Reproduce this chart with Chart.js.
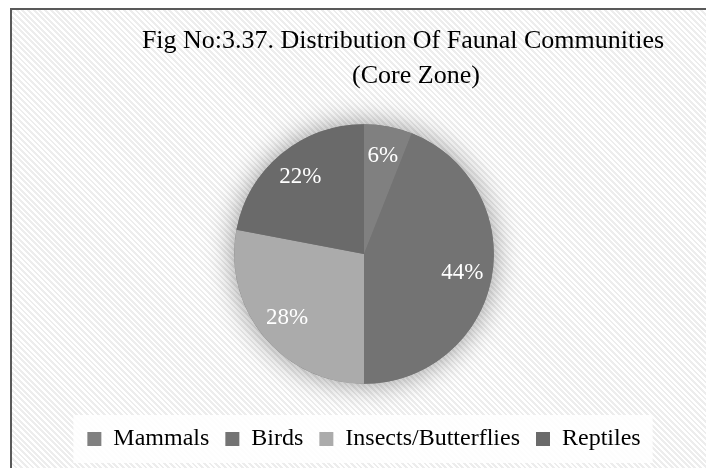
<!DOCTYPE html>
<html>
<head>
<meta charset="utf-8">
<title>Distribution Of Faunal Communities</title>
<script src="https://cdn.jsdelivr.net/npm/chart.js@4.4.1/dist/chart.umd.min.js"></script>
<style>
  html, body { margin: 0; padding: 0; width: 706px; height: 468px; overflow: hidden; background: #fff; }
  #frame {
    position: absolute; left: 10px; top: 8px; width: 780px; height: 520px;
    border-left: 2px solid #595959; border-top: 2px solid #595959;
    background: repeating-linear-gradient(45deg, #ffffff 0px, #ffffff 2px, #ededed 2px, #ededed 4px);
  }
  #wrap { position: absolute; left: 0; top: 0; width: 706px; height: 480px; }
</style>
</head>
<body>
<div id="frame"></div>
<div id="wrap"><canvas id="faunaChart" width="706" height="480"></canvas></div>
<script>
const titleLines = ["Fig No:3.37. Distribution Of Faunal Communities", "(Core Zone)"];
const categories = ["Mammals", "Birds", "Insects/Butterflies", "Reptiles"];
const shares = [6, 44, 28, 22];
const sliceColors = ["#808080", "#737373", "#ababab", "#6a6a6a"];

const serif = '"Liberation Serif", "Times New Roman", serif';

// soft halo behind the whole pie
const pieShadow = {
  id: "pieShadow",
  beforeDatasetsDraw(chart) {
    const arc = chart.getDatasetMeta(0).data[0];
    if (!arc) return;
    const ctx = chart.ctx;
    ctx.save();
    ctx.shadowColor = "rgba(0, 0, 0, 0.4)";
    ctx.shadowBlur = 28;
    ctx.fillStyle = "#777";
    ctx.beginPath();
    ctx.arc(arc.x, arc.y, arc.outerRadius, 0, Math.PI * 2);
    ctx.fill();
    ctx.restore();
  },
};

// percentage text inside each slice
const sliceLabels = {
  id: "sliceLabels",
  afterDatasetsDraw(chart) {
    const ctx = chart.ctx;
    const meta = chart.getDatasetMeta(0);
    ctx.save();
    ctx.font = "23px " + serif;
    ctx.fillStyle = "#fff";
    ctx.textAlign = "center";
    ctx.textBaseline = "middle";
    meta.data.forEach((arc, i) => {
      const mid = (arc.startAngle + arc.endAngle) / 2;
      const r = arc.outerRadius * 0.77;
      ctx.fillText(shares[i] + "%", arc.x + Math.cos(mid) * r, arc.y + Math.sin(mid) * r);
    });
    ctx.restore();
  },
};

// two-line heading, set a little right of the plot centre
const heading = {
  id: "heading",
  afterDraw(chart) {
    const ctx = chart.ctx;
    const xs = [403, 416];
    const ys = [41, 76];
    ctx.save();
    ctx.font = "26px " + serif;
    ctx.fillStyle = "#000";
    ctx.textAlign = "center";
    ctx.textBaseline = "middle";
    titleLines.forEach((line, i) => ctx.fillText(line, xs[i], ys[i]));
    ctx.restore();
  },
};

// pale band behind the legend row
const legendBand = {
  id: "legendBand",
  beforeDraw(chart) {
    const boxes = chart.legend && chart.legend.legendHitBoxes;
    if (!boxes || !boxes.length) return;
    const first = boxes[0];
    const last = boxes[boxes.length - 1];
    const left = first.left - 14;
    const right = last.left + last.width + 12;
    const top = first.top - 12;
    const bottom = first.top + first.height + 12;
    const ctx = chart.ctx;
    ctx.save();
    ctx.fillStyle = "rgba(255, 255, 255, 0.85)";
    ctx.fillRect(left, top, right - left, bottom - top);
    ctx.restore();
  },
};

new Chart(document.getElementById("faunaChart"), {
  type: "pie",
  data: {
    labels: categories,
    datasets: [
      {
        data: shares,
        backgroundColor: sliceColors,
        borderWidth: 0,
        radius: "82.7%",
      },
    ],
  },
  options: {
    responsive: false,
    animation: false,
    events: [],
    layout: {
      padding: { top: 97, left: 22, right: 0, bottom: 19 },
    },
    plugins: {
      tooltip: { enabled: false },
      legend: {
        position: "bottom",
        labels: {
          boxWidth: 14,
          boxHeight: 14,
          padding: 16,
          color: "#000",
          font: { family: serif, size: 24 },
        },
      },
    },
  },
  plugins: [legendBand, pieShadow, sliceLabels, heading],
});
</script>
</body>
</html>
